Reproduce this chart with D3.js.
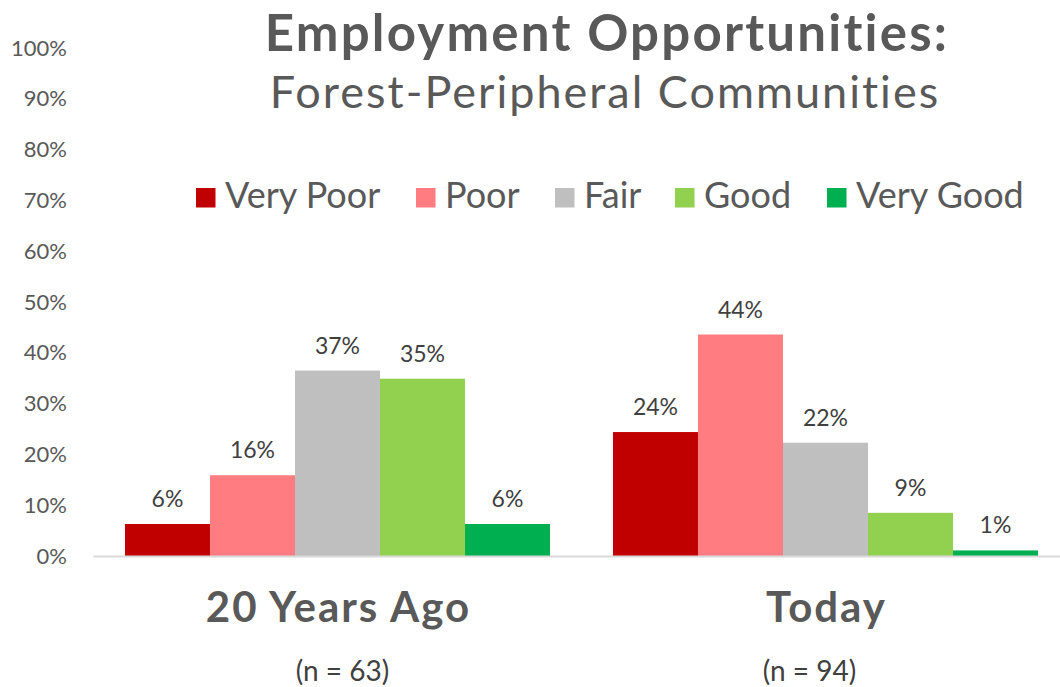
<!DOCTYPE html>
<html>
<head>
<meta charset="utf-8">
<script src="https://cdn.jsdelivr.net/npm/d3@7"></script>
<style>
  body { margin: 0; background: #fff; }
  text { font-family: "Lato", "Open Sans", sans-serif; }
</style>
</head>
<body>
<div id="chart-area"></div>
<script>
// data (counts / n)
var groups = ["20 Years Ago", "Today"];
var groupN = ["(n = 63)", "(n = 94)"];
var ratings = ["Very Poor", "Poor", "Fair", "Good", "Very Good"];
var colors = ["#C00000", "#FF7C80", "#BFBFBF", "#92D050", "#00B050"];
var yearsAgo = [6.3, 15.9, 36.5, 34.9, 6.3];
var today = [24.4, 43.6, 22.3, 8.5, 1.1];
var yTicks = [0, 10, 20, 30, 40, 50, 60, 70, 80, 90, 100];

var series = [yearsAgo, today];

var width = 1060, height = 687;

var svg = d3.select("#chart-area")
    .append("svg")
        .attr("width", width)
        .attr("height", height);

var y = d3.scaleLinear()
    .domain([0, 100])
    .range([556, 48]);

var x0 = d3.scaleBand()
    .domain(groups)
    .range([93.5, 1069.5])
    .paddingInner(0.129)
    .paddingOuter(0.0645);

var x1 = d3.scaleBand()
    .domain(ratings)
    .range([0, x0.bandwidth()]);

// title
svg.append("text")
    .attr("x", 607)
    .attr("y", 51)
    .attr("text-anchor", "middle")
    .attr("font-size", "51px")
    .attr("font-weight", "bold")
    .attr("letter-spacing", "2.2px")
    .attr("fill", "#595959")
    .text("Employment Opportunities:");

svg.append("text")
    .attr("x", 605)
    .attr("y", 108)
    .attr("text-anchor", "middle")
    .attr("font-size", "45px")
    .attr("letter-spacing", "2px")
    .attr("fill", "#595959")
    .text("Forest-Peripheral Communities");

// y axis (labels only)
var yAxis = d3.axisLeft(y)
    .tickValues(yTicks)
    .tickSize(0)
    .tickFormat(function(d) { return d + "%"; });

var ya = svg.append("g")
    .attr("transform", "translate(67,0)")
    .call(yAxis);
ya.select(".domain").remove();
ya.selectAll("text")
    .attr("x", 0)
    .attr("font-size", "22px")
    .attr("font-family", "Lato, sans-serif")
    .attr("fill", "#595959");

// bars
var grp = svg.selectAll(".grp")
    .data(groups)
  .enter().append("g")
    .attr("class", "grp")
    .attr("transform", function(d) { return "translate(" + x0(d) + ",0)"; });

grp.selectAll("rect")
    .data(function(d, i) { return series[i].map(function(v, j) { return {key: ratings[j], val: v, col: colors[j]}; }); })
  .enter().append("rect")
    .attr("x", function(d) { return x1(d.key); })
    .attr("y", function(d) { return y(d.val); })
    .attr("width", x1.bandwidth())
    .attr("height", function(d) { return y(0) - y(d.val); })
    .attr("fill", function(d) { return d.col; });

grp.selectAll(".lbl")
    .data(function(d, i) { return series[i].map(function(v, j) { return {key: ratings[j], val: v}; }); })
  .enter().append("text")
    .attr("class", "lbl")
    .attr("x", function(d) { return x1(d.key) + x1.bandwidth() / 2; })
    .attr("y", function(d) { return y(d.val) - 17; })
    .attr("text-anchor", "middle")
    .attr("font-size", "23px")
    .attr("fill", "#404040")
    .text(function(d) { return Math.round(d.val) + "%"; });

// x axis line
svg.append("line")
    .attr("x1", 93.5)
    .attr("x2", 1060)
    .attr("y1", y(0) + 0.5)
    .attr("y2", y(0) + 0.5)
    .attr("stroke", "#D9D9D9")
    .attr("stroke-width", 2);

// category labels
svg.selectAll(".cat")
    .data(groups)
  .enter().append("text")
    .attr("class", "cat")
    .attr("x", function(d) { return x0(d) + x0.bandwidth() / 2 + 1; })
    .attr("y", 622)
    .attr("text-anchor", "middle")
    .attr("font-size", "42px")
    .attr("font-weight", "bold")
    .attr("letter-spacing", "2px")
    .attr("fill", "#595959")
    .text(function(d) { return d; });

var nShift = [5, -16];
svg.selectAll(".nlbl")
    .data(groups)
  .enter().append("text")
    .attr("class", "nlbl")
    .attr("x", function(d, i) { return x0(d) + x0.bandwidth() / 2 + nShift[i]; })
    .attr("y", 681)
    .attr("text-anchor", "middle")
    .attr("font-size", "28px")
    .attr("fill", "#404040")
    .text(function(d, i) { return groupN[i]; });

// legend
var legendX = [196, 416, 555, 675, 827];
var leg = svg.selectAll(".leg")
    .data(ratings)
  .enter().append("g")
    .attr("class", "leg")
    .attr("transform", function(d, i) { return "translate(" + legendX[i] + ",188)"; });

leg.append("rect")
    .attr("width", 19.5)
    .attr("height", 19.5)
    .attr("fill", function(d, i) { return colors[i]; });

leg.append("text")
    .attr("x", 29)
    .attr("y", 20)
    .attr("font-size", "36px")
    .attr("fill", "#595959")
    .text(function(d) { return d; });
</script>
</body>
</html>
